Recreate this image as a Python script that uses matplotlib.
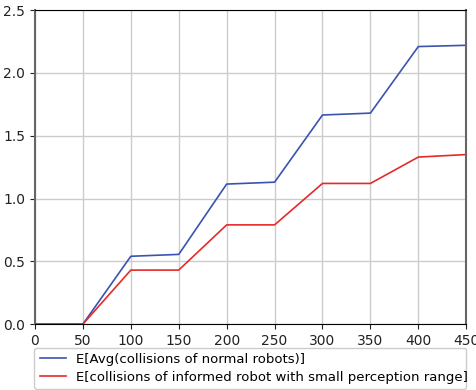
import numpy as np
import matplotlib
matplotlib.use('Agg')
import matplotlib.pyplot as plt

# Data
x = [0, 50, 100, 150, 200, 250, 300, 350, 400, 450]
normal = [0, 0, 0.54, 0.555, 1.115, 1.13, 1.665, 1.68, 2.21, 2.22]
informed = [0, 0, 0.43, 0.43, 0.79, 0.79, 1.12, 1.12, 1.33, 1.35]
labels = ['E[Avg(collisions of normal robots)]',
          'E[collisions of informed robot with small perception range]']

fig = plt.figure(figsize=(4.76, 3.9), dpi=100)
ax = fig.add_axes([0.0735, 0.169, 0.906, 0.805])

ax.plot(x, normal, color='#3a53b0', lw=1.2, label=labels[0])
ax.plot(x, informed, color='#e52a2a', lw=1.2, label=labels[1])

ax.set_xlim(0, 450)
ax.set_ylim(0, 2.5)
ax.set_xticks(np.arange(0, 451, 50))
ax.set_yticks(np.arange(0, 2.51, 0.5))
ax.grid(True, color='#cccccc', lw=1)
ax.tick_params(labelsize=10, colors='#222222')
for s in ['left', 'right']:
    ax.spines[s].set_color('#666666')
    ax.spines[s].set_linewidth(1.5)
# x label sits behind the legend, as in the original
ax.set_xlabel('Number of robots', fontsize=10)

leg = fig.legend(loc='lower left', bbox_to_anchor=(0.072, 0.003, 0.908, 0.115),
                 mode='expand', fontsize=9.5, frameon=True, framealpha=1,
                 borderaxespad=0.0, labelspacing=0.35)
leg.set_zorder(10)

plt.savefig('out.png', dpi=100)
plt.close()
